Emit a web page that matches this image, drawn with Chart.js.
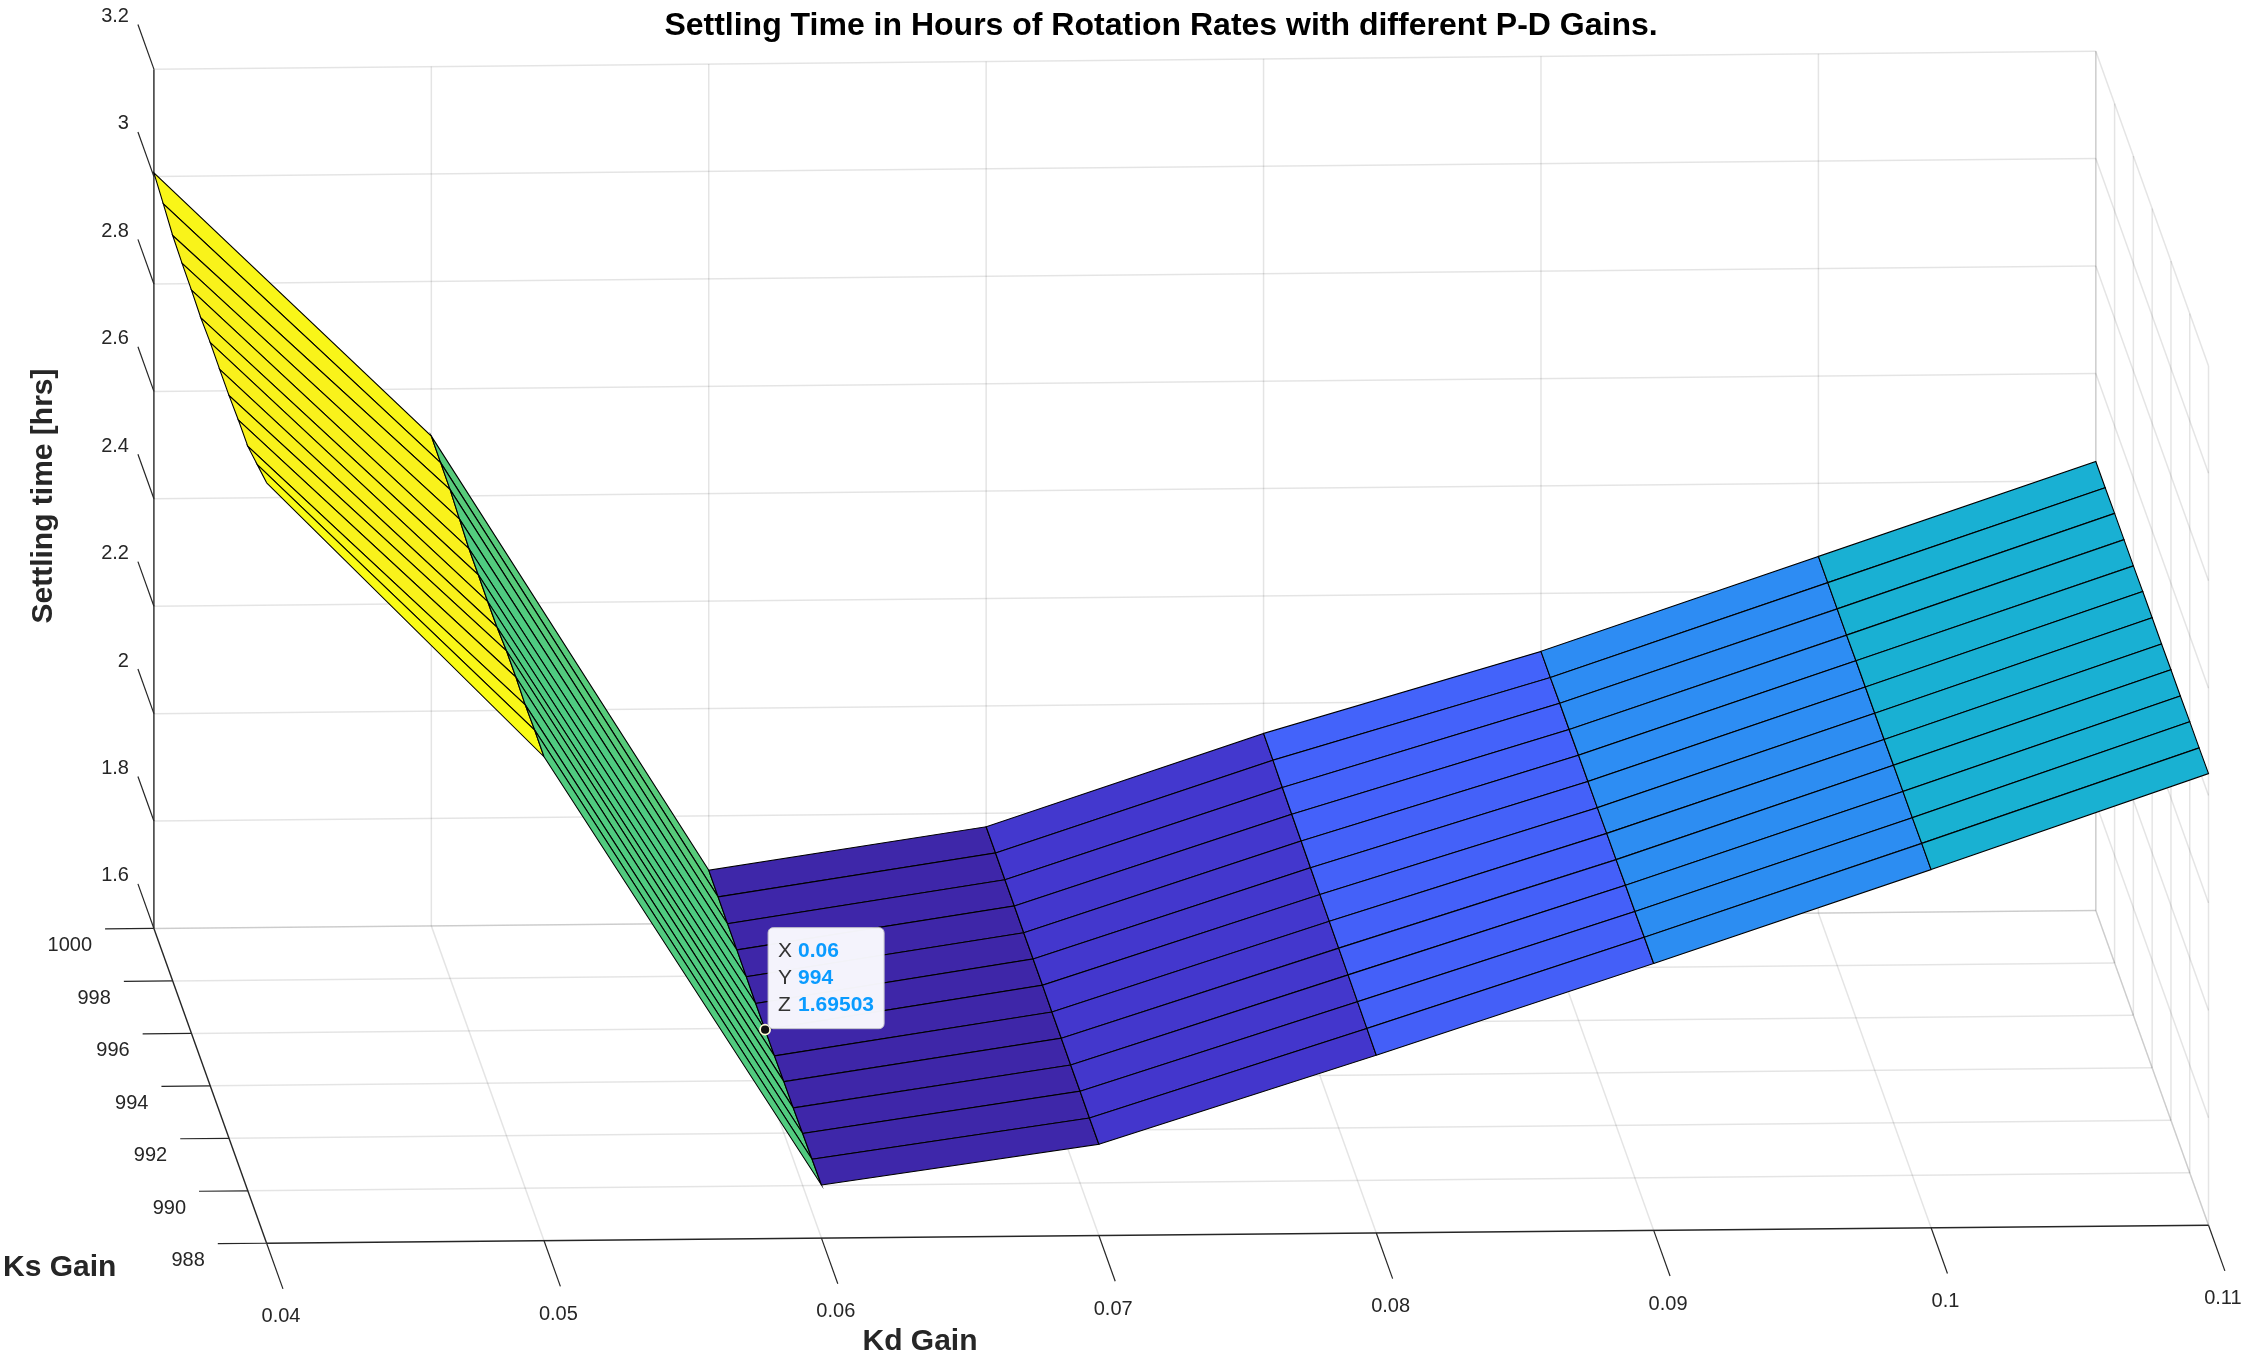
<!DOCTYPE html>
<html>
<head>
<meta charset="utf-8">
<title>Settling Time in Hours of Rotation Rates with different P-D Gains.</title>
<script src="https://cdn.jsdelivr.net/npm/chart.js@4.4.1/dist/chart.umd.min.js"></script>
<style>
  html, body { margin: 0; padding: 0; background: #ffffff; overflow: hidden; }
  canvas { display: block; }
</style>
</head>
<body>
<canvas id="surface" width="2253" height="1354"></canvas>
<script>
// grid of the surface: Kd gain (x), Ks gain (y), settling time in hours (z)
const kdGains = [0.04, 0.05, 0.06, 0.07, 0.08, 0.09, 0.10, 0.11];
const ksGains = [988, 989, 990, 991, 992, 993, 994, 995, 996, 997, 998, 999, 1000];

// settling time for each Kd column, listed from Ks = 988 up to Ks = 1000
const settleKd004 = [3.016, 3.001, 2.986, 2.986, 2.983, 2.983, 2.984, 2.981, 2.984, 2.985, 2.988, 2.998, 3.007];
const settleKd005 = [2.501, 2.502, 2.500, 2.503, 2.503, 2.498, 2.497, 2.498, 2.498, 2.504, 2.510, 2.511, 2.512];
const settleKd006 = [1.699, 1.698, 1.697, 1.696, 1.696, 1.695, 1.69503, 1.695, 1.696, 1.697, 1.697, 1.698, 1.699];
const settleKd007 = [1.770, 1.770, 1.771, 1.771, 1.772, 1.772, 1.773, 1.773, 1.773, 1.774, 1.774, 1.775, 1.775];
const settleKd008 = [1.931, 1.932, 1.933, 1.934, 1.935, 1.936, 1.937, 1.938, 1.939, 1.940, 1.941, 1.943, 1.944];
const settleKd009 = [2.097, 2.097, 2.096, 2.096, 2.095, 2.095, 2.094, 2.094, 2.094, 2.093, 2.093, 2.092, 2.092];
const settleKd010 = [2.267, 2.267, 2.266, 2.266, 2.266, 2.265, 2.265, 2.265, 2.265, 2.264, 2.264, 2.264, 2.264];
const settleKd011 = [2.441, 2.440, 2.440, 2.439, 2.439, 2.438, 2.438, 2.438, 2.437, 2.437, 2.437, 2.436, 2.436];
const settleByKd = [settleKd004, settleKd005, settleKd006, settleKd007, settleKd008, settleKd009, settleKd010, settleKd011];

// axes
const kdTicks = [0.04, 0.05, 0.06, 0.07, 0.08, 0.09, 0.10, 0.11];
const kdTickLabels = ["0.04", "0.05", "0.06", "0.07", "0.08", "0.09", "0.1", "0.11"];
const ksTicks = [988, 990, 992, 994, 996, 998, 1000];
const ksTickLabels = ["988", "990", "992", "994", "996", "998", "1000"];
const zTicks = [1.6, 1.8, 2.0, 2.2, 2.4, 2.6, 2.8, 3.0, 3.2];
const zTickLabels = ["1.6", "1.8", "2", "2.2", "2.4", "2.6", "2.8", "3", "3.2"];
const kdLim = [0.04, 0.11];
const ksLim = [988, 1000];
const zLim = [1.6, 3.2];

// data tip
const tipKd = 0.06;
const tipKs = 994;
const tipZ = 1.69503;

// ---- view (orthographic projection into canvas units) ----
const W = 2253, H = 1354;
const view = {
    x0: 148, y0: 931,        // where (Kd min, Ks max, z min) lands
    kdX: 27910, kdY: -260,   // per unit of Kd
    ksX: -9.45, ksY: -26.5,  // per unit of Ks (Ks grows toward the back)
    zY: -542.5               // per hour
};
function project(kd, ks, z) {
    return {
        x: view.x0 + (kd - kdLim[0]) * view.kdX + (ks - ksLim[1]) * view.ksX,
        y: view.y0 + (kd - kdLim[0]) * view.kdY + (ks - ksLim[1]) * view.ksY + (z - zLim[0]) * view.zY
    };
}

// parula-like colormap
const parula = [
    [0.0, 62, 38, 168], [0.1, 71, 67, 231], [0.2, 67, 103, 253], [0.3, 45, 140, 243],
    [0.4, 28, 170, 223], [0.5, 18, 190, 185], [0.6, 72, 203, 134], [0.7, 159, 201, 66],
    [0.8, 234, 186, 49], [0.9, 250, 212, 46], [1.0, 249, 251, 21]
];
function colormap(t) {
    t = Math.max(0, Math.min(1, t));
    for (let i = 1; i < parula.length; i++) {
        if (t <= parula[i][0]) {
            const a = parula[i - 1], b = parula[i];
            const f = (t - a[0]) / (b[0] - a[0]);
            const c = [1, 2, 3].map((k) => Math.round(a[k] + (b[k] - a[k]) * f));
            return "rgb(" + c.join(",") + ")";
        }
    }
    return "rgb(249,251,21)";
}

const gridColor = "rgba(0,0,0,0.105)";
const axisColor = "#262626";
const datasets = [];

function segment(a, b, color, width) {
    datasets.push({
        data: [project(a[0], a[1], a[2]), project(b[0], b[1], b[2])],
        showLine: true,
        borderColor: color,
        borderWidth: width,
        pointRadius: 0,
        fill: false
    });
}

// back wall (Ks = max), floor (z = min), side wall (Kd = max)
zTicks.forEach((z) => segment([kdLim[0], ksLim[1], z], [kdLim[1], ksLim[1], z], gridColor, 1.5));
kdTicks.slice(1).forEach((kd) => segment([kd, ksLim[1], zLim[0]], [kd, ksLim[1], zLim[1]], gridColor, 1.5));
ksTicks.slice(1).forEach((ks) => segment([kdLim[0], ks, zLim[0]], [kdLim[1], ks, zLim[0]], gridColor, 1.5));
kdTicks.slice(1).forEach((kd) => segment([kd, ksLim[0], zLim[0]], [kd, ksLim[1], zLim[0]], gridColor, 1.5));
zTicks.forEach((z) => segment([kdLim[1], ksLim[0], z], [kdLim[1], ksLim[1], z], gridColor, 1.5));
ksTicks.forEach((ks) => segment([kdLim[1], ks, zLim[0]], [kdLim[1], ks, zLim[1]], gridColor, 1.5));

// axis lines and tick marks
segment([kdLim[0], ksLim[1], zLim[0]], [kdLim[0], ksLim[1], zLim[1]], axisColor, 1.4);
segment([kdLim[0], ksLim[0], zLim[0]], [kdLim[0], ksLim[1], zLim[0]], axisColor, 1.4);
segment([kdLim[0], ksLim[0], zLim[0]], [kdLim[1], ksLim[0], zLim[0]], axisColor, 1.4);
const zTickLen = 1.7, ksTickLen = 0.00176, kdTickLen = 1.74;
zTicks.forEach((z) => segment([kdLim[0], ksLim[1], z], [kdLim[0], ksLim[1] + zTickLen, z], axisColor, 1.2));
ksTicks.forEach((ks) => segment([kdLim[0], ks, zLim[0]], [kdLim[0] - ksTickLen, ks, zLim[0]], axisColor, 1.2));
kdTicks.forEach((kd) => segment([kd, ksLim[0], zLim[0]], [kd, ksLim[0] - kdTickLen, zLim[0]], axisColor, 1.2));

// surface patches, back rows first
const allZ = settleByKd.flat();
const zMin = Math.min(...allZ), zMax = Math.max(...allZ);
for (let j = ksGains.length - 2; j >= 0; j--) {
    for (let i = 0; i < kdGains.length - 1; i++) {
        const corners = [[i, j], [i + 1, j], [i + 1, j + 1], [i, j + 1], [i, j]];
        datasets.push({
            data: corners.map(([a, b]) => project(kdGains[a], ksGains[b], settleByKd[a][b])),
            showLine: true,
            fill: "shape",
            backgroundColor: colormap((settleByKd[i][j] - zMin) / (zMax - zMin)),
            borderColor: "#000000",
            borderWidth: 1.1,
            pointRadius: 0
        });
    }
}

// data tip marker
datasets.push({
    data: [project(tipKd, tipKs, tipZ)],
    showLine: false,
    pointRadius: 5,
    pointBackgroundColor: "#111111",
    pointBorderColor: "#fffbd6",
    pointBorderWidth: 1.8
});

// first pushed is drawn first
datasets.forEach((d, idx) => { d.order = datasets.length - idx; });

function txt(ctx, s, x, y, font, color, align, baseline) {
    ctx.font = font;
    ctx.fillStyle = color;
    ctx.textAlign = align;
    ctx.textBaseline = baseline;
    ctx.fillText(s, x, y);
}

const labelsPlugin = {
    id: "labels3d",
    afterDraw(chart) {
        const ctx = chart.ctx;
        const sx = chart.scales.x, sy = chart.scales.y;
        const px = (p) => ({ x: sx.getPixelForValue(p.x), y: sy.getPixelForValue(p.y) });
        const tickFont = "20px 'Liberation Sans', Arial, Helvetica, sans-serif";
        const boldFont = (n) => "bold " + n + "px 'Liberation Sans', Arial, Helvetica, sans-serif";
        ctx.save();

        zTicks.forEach((z, k) => {
            const e = px(project(kdLim[0], ksLim[1] + zTickLen, z));
            txt(ctx, zTickLabels[k], e.x - 9, e.y - 8, tickFont, axisColor, "right", "middle");
        });
        ksTicks.forEach((ks, k) => {
            const e = px(project(kdLim[0] - ksTickLen, ks, zLim[0]));
            txt(ctx, ksTickLabels[k], e.x - 13, e.y + 7, tickFont, axisColor, "right", "top");
        });
        kdTicks.forEach((kd, k) => {
            const e = px(project(kd, ksLim[0] - kdTickLen, zLim[0]));
            txt(ctx, kdTickLabels[k], e.x - 2, e.y + 18, tickFont, axisColor, "center", "top");
        });

        txt(ctx, "Settling Time in Hours of Rotation Rates with different P-D Gains.", 1161, 35, boldFont(32), "#000000", "center", "alphabetic");
        txt(ctx, "Kd Gain", 920, 1350, boldFont(30), axisColor, "center", "alphabetic");
        txt(ctx, "Ks Gain", 3, 1276, boldFont(30), axisColor, "left", "alphabetic");
        ctx.save();
        ctx.translate(52, 496);
        ctx.rotate(-Math.PI / 2);
        txt(ctx, "Settling time [hrs]", 0, 0, boldFont(30), axisColor, "center", "alphabetic");
        ctx.restore();

        // data tip box
        const p = px(project(tipKd, tipKs, tipZ));
        const bx = p.x + 3, by = p.y - 102, bw = 116, bh = 101;
        ctx.beginPath();
        ctx.roundRect(bx, by, bw, bh, 5);
        ctx.fillStyle = "rgba(250,250,255,0.97)";
        ctx.fill();
        ctx.strokeStyle = "#c4c4cc";
        ctx.lineWidth = 1;
        ctx.stroke();
        const rows = [["X", "0.06"], ["Y", String(tipKs)], ["Z", String(tipZ)]];
        rows.forEach((r, k) => {
            const yy = by + 24 + k * 27;
            txt(ctx, r[0], bx + 10, yy, "21px 'Liberation Sans', Arial, sans-serif", "#333333", "left", "middle");
            txt(ctx, r[1], bx + 30, yy, boldFont(21), "#0a9bff", "left", "middle");
        });
        ctx.restore();
    }
};

new Chart(document.getElementById("surface").getContext("2d"), {
    type: "scatter",
    data: { datasets: datasets },
    options: {
        responsive: false,
        animation: false,
        devicePixelRatio: 1,
        events: [],
        layout: { padding: 0 },
        scales: {
            x: { type: "linear", min: 0, max: W, display: false },
            y: { type: "linear", min: 0, max: H, reverse: true, display: false }
        },
        elements: { line: { tension: 0 } },
        plugins: {
            legend: { display: false },
            tooltip: { enabled: false },
            title: { display: false },
            filler: { propagate: false }
        }
    },
    plugins: [labelsPlugin]
});
</script>
</body>
</html>
